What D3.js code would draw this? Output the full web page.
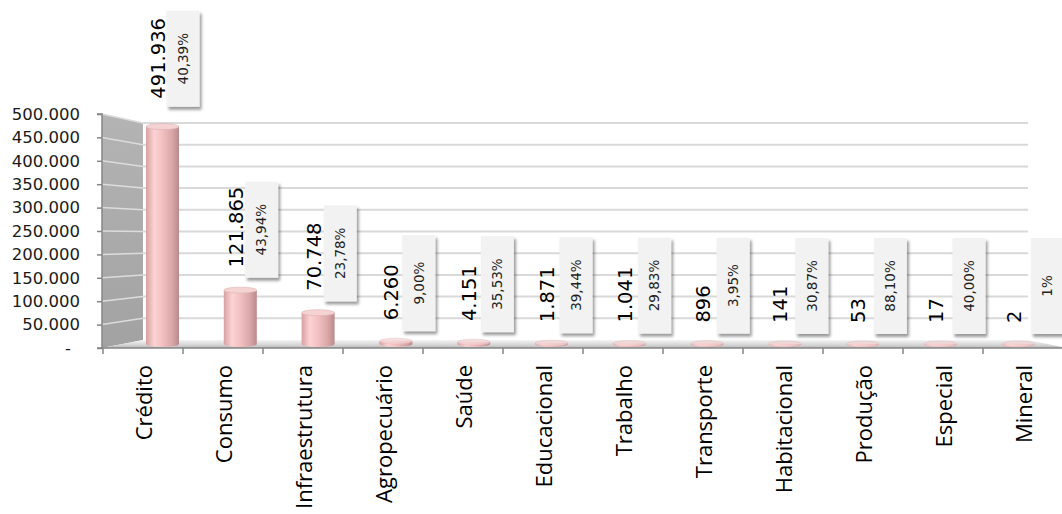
<!DOCTYPE html>
<html>
<head>
<meta charset="utf-8">
<script src="https://cdn.jsdelivr.net/npm/d3@7"></script>
<style>
  html, body { margin: 0; padding: 0; background: #fff; }
  svg { display: block; }
</style>
</head>
<body>
<svg id="chart" width="1062" height="514"></svg>
<script>
// Cooperativas por ramo: número de cooperados e participação percentual
const categories = ["Crédito", "Consumo", "Infraestrutura", "Agropecuário", "Saúde", "Educacional",
                    "Trabalho", "Transporte", "Habitacional", "Produção", "Especial", "Mineral"];
const values = [491936, 121865, 70748, 6260, 4151, 1871, 1041, 896, 141, 53, 17, 2];
const pctLabels = ["40,39%", "43,94%", "23,78%", "9,00%", "35,53%", "39,44%",
                   "29,83%", "3,95%", "30,87%", "88,10%", "40,00%", "1%"];
const yTicks = [0, 50000, 100000, 150000, 200000, 250000, 300000, 350000, 400000, 450000, 500000];
const yMax = 500000;

const ptBR = d3.formatLocale({ decimal: ",", thousands: ".", grouping: [3], currency: ["R$", ""] });
const fmt = ptBR.format(",d");

const svg = d3.select("#chart");
const defs = svg.append("defs");

// --- 3D frame geometry ---
const frontLeft = 102, backLeft = 143, backRight = 1028, frontRight = 1062;

// front plane (axis) scales and back-wall scale
const yFront = d3.scaleLinear().domain([0, yMax]).range([348, 114]);
const yBack = d3.scaleLinear().domain([0, yMax]).range([340, 123]);
const yBar = d3.scaleLinear().domain([0, yMax]).range([344, 123]);

const xFront = d3.scaleBand().domain(categories).range([103, 1063]);
const xBar = d3.scaleBand().domain(categories).range([123.6, 1057.2]);

// gradients
const wallGrad = defs.append("linearGradient").attr("id", "wallGrad")
  .attr("x1", 0).attr("y1", 0).attr("x2", 0).attr("y2", 1);
wallGrad.append("stop").attr("offset", "0%").attr("stop-color", "#b4b4b4");
wallGrad.append("stop").attr("offset", "100%").attr("stop-color", "#a2a2a2");

const floorGrad = defs.append("linearGradient").attr("id", "floorGrad")
  .attr("x1", 0).attr("y1", 0).attr("x2", 0).attr("y2", 1);
floorGrad.append("stop").attr("offset", "0%").attr("stop-color", "#f4f4f4");
floorGrad.append("stop").attr("offset", "60%").attr("stop-color", "#d6d6d6");
floorGrad.append("stop").attr("offset", "100%").attr("stop-color", "#b8b8b8");

const barGrad = defs.append("linearGradient").attr("id", "barGrad")
  .attr("x1", 0).attr("y1", 0).attr("x2", 1).attr("y2", 0);
[["0%", "#d8a0a3"], ["25%", "#fcd3d3"], ["50%", "#f3c0c1"], ["80%", "#d9a6a8"], ["100%", "#b9898b"]]
  .forEach(([o, c]) => barGrad.append("stop").attr("offset", o).attr("stop-color", c));

const shadow = defs.append("filter").attr("id", "boxShadow")
  .attr("x", "-20%").attr("y", "-10%").attr("width", "150%").attr("height", "130%");
shadow.append("feDropShadow").attr("dx", 2).attr("dy", 3).attr("stdDeviation", 1.6)
  .attr("flood-color", "#000").attr("flood-opacity", 0.4);

// --- side wall ---
svg.append("polygon")
  .attr("points", [[frontLeft, yFront(yMax)], [backLeft, yBack(yMax)], [backLeft, yBack(0)], [frontLeft, yFront(0)]]
    .map(p => p.join(",")).join(" "))
  .attr("fill", "url(#wallGrad)");

svg.append("g").selectAll("line").data(yTicks.filter(d => d > 0)).join("line")
  .attr("x1", frontLeft).attr("x2", backLeft)
  .attr("y1", d => yFront(d)).attr("y2", d => yBack(d))
  .attr("stroke", "#dcdcdc").attr("stroke-width", 1.5);

// --- back wall gridlines ---
svg.append("g").selectAll("line").data(yTicks.filter(d => d > 0)).join("line")
  .attr("x1", backLeft).attr("x2", backRight)
  .attr("y1", d => yBack(d)).attr("y2", d => yBack(d))
  .attr("stroke", "#d9d9d9").attr("stroke-width", 2);

// --- floor ---
svg.append("polygon")
  .attr("points", [[frontLeft, yFront(0)], [backLeft, yBack(0)], [backRight, yBack(0)], [frontRight, yFront(0) - 1], [frontRight, yFront(0)]]
    .map(p => p.join(",")).join(" "))
  .attr("fill", "url(#floorGrad)");

// --- cylinders ---
const barW = 33, ry = 3;
const bars = svg.append("g").selectAll("g").data(categories).join("g");
bars.each(function (c, i) {
  const g = d3.select(this);
  const cx = xBar(c) + xBar.bandwidth() / 2;
  const yT = yBar(values[i]);
  const yB = yBar(0);
  g.append("path")
    .attr("d", `M${cx - barW / 2},${yT} L${cx - barW / 2},${yB} A${barW / 2},${ry} 0 0 0 ${cx + barW / 2},${yB} L${cx + barW / 2},${yT} Z`)
    .attr("fill", "url(#barGrad)");
  g.append("ellipse")
    .attr("cx", cx).attr("cy", yT).attr("rx", barW / 2).attr("ry", ry)
    .attr("fill", "#f6d3d3").attr("stroke", "#dcb0b2").attr("stroke-width", 0.6)
    .attr("opacity", yBar(0) - yT < 4 ? 0.7 : 1);
});

// --- value labels and percentage boxes ---
const labels = svg.append("g").selectAll("g").data(categories).join("g");
labels.each(function (c, i) {
  const g = d3.select(this);
  const v = values[i];
  const cx = xBar(c) + xBar.bandwidth() / 2;
  const topEdge = yBar(v) - ry;
  const share = v / yMax;

  // value, rotated
  g.append("text")
    .attr("transform", `translate(${cx - 4.5},${topEdge - 18 - 7 * share}) rotate(-90)`)
    .attr("dy", "0.36em")
    .attr("text-anchor", "start")
    .attr("font-family", "DejaVu Sans")
    .attr("font-size", 19.5)
    .attr("fill", "#000")
    .text(fmt(v));

  // percentage box
  const boxW = 33, boxH = 96;
  const boxLeft = cx + 4 + 0.8 * i;
  const boxBottom = topEdge - 7 - 10 * share;
  g.append("rect")
    .attr("x", boxLeft).attr("y", boxBottom - boxH)
    .attr("width", boxW).attr("height", boxH)
    .attr("fill", "#f2f2f2")
    .attr("filter", "url(#boxShadow)");
  g.append("text")
    .attr("transform", `translate(${boxLeft + boxW / 2},${boxBottom - boxH / 2}) rotate(-90)`)
    .attr("dy", "0.36em")
    .attr("text-anchor", "middle")
    .attr("font-family", "DejaVu Sans")
    .attr("font-size", 13.5)
    .attr("fill", "#1f1f1f")
    .text(pctLabels[i]);
});

// --- value axis ---
const yAxis = d3.axisLeft(yFront).tickValues(yTicks).tickSize(5).tickPadding(17)
  .tickFormat(d => d === 0 ? "-" : fmt(d));
const gy = svg.append("g").attr("transform", `translate(${frontLeft},0)`).call(yAxis);
gy.select(".domain").attr("stroke", "#868686").attr("stroke-width", 1.5).attr("d", `M-5,${yFront(yMax)}H0V${yFront(0)}H-5`);
gy.selectAll(".tick line").attr("stroke", "#868686").attr("stroke-width", 1.5);
gy.selectAll(".tick text")
  .attr("font-family", "DejaVu Sans").attr("font-size", 16.5).attr("fill", "#1a1a1a")
  .filter(d => d === 0).attr("x", -31);

// --- category axis ---
svg.append("line")
  .attr("x1", frontLeft).attr("x2", frontRight)
  .attr("y1", yFront(0)).attr("y2", yFront(0))
  .attr("stroke", "#868686").attr("stroke-width", 1.5);

svg.append("g").selectAll("line").data(categories).join("line")
  .attr("x1", d => xFront(d)).attr("x2", d => xFront(d))
  .attr("y1", yFront(0)).attr("y2", yFront(0) + 6)
  .attr("stroke", "#868686").attr("stroke-width", 1.5);

svg.append("g").selectAll("text").data(categories).join("text")
  .attr("transform", d => `translate(${xFront(d) + xFront.bandwidth() / 2},365) rotate(-90)`)
  .attr("dy", "0.42em")
  .attr("text-anchor", "end")
  .attr("font-family", "Open Sans")
  .attr("font-size", 22)
  .attr("fill", "#000")
  .text(d => d);
</script>
</body>
</html>
